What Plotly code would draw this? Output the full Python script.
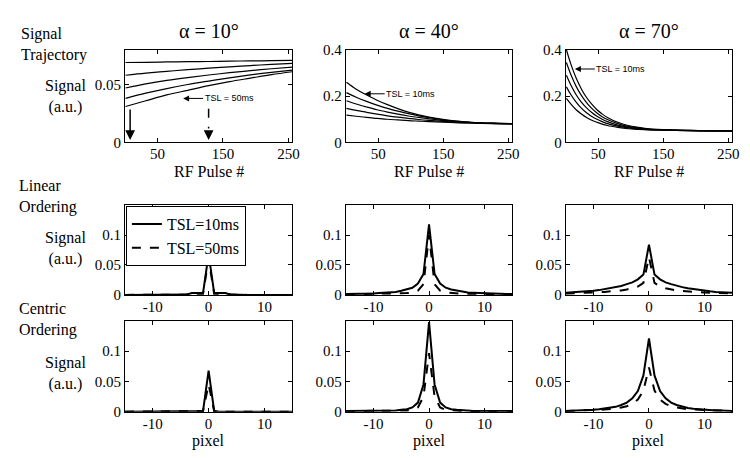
import plotly.graph_objects as go
from plotly.subplots import make_subplots

W, H = 750, 458
SERIF = "Liberation Serif, Times New Roman, serif"
SANS = "Liberation Sans, Arial, sans-serif"


def fx(x):
    return x / W


def fy(y):
    return 1 - y / H


alphas = ["\u03b1 = 10\u00b0", "\u03b1 = 40\u00b0", "\u03b1 = 70\u00b0"]
tsl_labels = ["TSL=10ms", "TSL=20ms", "TSL=30ms", "TSL=40ms", "TSL=50ms"]

# ---- top row: signal trajectory vs RF pulse (TSL 10..50 ms, top to bottom)
pulse_a10 = [1, 32, 64, 96, 128, 160, 192, 224, 256]
traj_a10 = [
    [0.0690, 0.0692, 0.0695, 0.0697, 0.0699, 0.0702, 0.0704, 0.0706, 0.0708],
    [0.0580, 0.0598, 0.0614, 0.0628, 0.0641, 0.0653, 0.0664, 0.0674, 0.0683],
    [0.0470, 0.0505, 0.0535, 0.0560, 0.0582, 0.0602, 0.0620, 0.0636, 0.0650],
    [0.0380, 0.0425, 0.0465, 0.0500, 0.0530, 0.0558, 0.0583, 0.0605, 0.0625],
    [0.0310, 0.0360, 0.0410, 0.0450, 0.0490, 0.0525, 0.0555, 0.0585, 0.0610],
]

pulse_a40 = [1, 16, 32, 48, 64, 80, 96, 112, 128, 160, 192, 224, 256]
traj_a40 = [
    [0.260, 0.230, 0.205, 0.182, 0.163, 0.146, 0.131, 0.119, 0.109, 0.095, 0.087, 0.083, 0.081],
    [0.215, 0.195, 0.177, 0.161, 0.147, 0.135, 0.124, 0.115, 0.107, 0.094, 0.087, 0.083, 0.081],
    [0.180, 0.166, 0.153, 0.141, 0.131, 0.122, 0.114, 0.108, 0.102, 0.092, 0.086, 0.082, 0.081],
    [0.147, 0.138, 0.130, 0.122, 0.115, 0.109, 0.104, 0.099, 0.095, 0.089, 0.085, 0.082, 0.081],
    [0.118, 0.113, 0.108, 0.104, 0.100, 0.097, 0.094, 0.092, 0.090, 0.086, 0.083, 0.081, 0.080],
]

pulse_a70 = [1, 8, 16, 24, 32, 40, 48, 56, 64, 80, 96, 112, 128, 192, 256]
traj_a70 = [
    [0.400, 0.337, 0.278, 0.231, 0.194, 0.165, 0.141, 0.123, 0.108, 0.087, 0.073, 0.065, 0.059, 0.052, 0.050],
    [0.345, 0.292, 0.242, 0.203, 0.172, 0.147, 0.127, 0.111, 0.099, 0.081, 0.069, 0.062, 0.058, 0.052, 0.050],
    [0.290, 0.247, 0.206, 0.174, 0.149, 0.129, 0.113, 0.100, 0.090, 0.075, 0.066, 0.060, 0.056, 0.051, 0.050],
    [0.240, 0.206, 0.174, 0.148, 0.128, 0.112, 0.100, 0.090, 0.081, 0.070, 0.063, 0.058, 0.055, 0.051, 0.050],
    [0.190, 0.165, 0.141, 0.123, 0.108, 0.096, 0.087, 0.079, 0.073, 0.065, 0.059, 0.056, 0.054, 0.051, 0.050],
]

# ---- image profiles (pixel 0..15, symmetric about 0)
lin_a10_10 = [0.068, 0.003, 0.003, 0.003, 0.0005, 0, 0, 0, 0, 0, 0, 0, 0, 0, 0, 0]
lin_a10_50 = [0.060, 0.002, 0.002, 0.002, 0.0005, 0, 0, 0, 0, 0, 0, 0, 0, 0, 0, 0]
lin_a40_10 = [0.118, 0.035, 0.019, 0.012, 0.009, 0.007, 0.005, 0.004, 0.0035, 0.003, 0.0025, 0.002, 0.002, 0.0018, 0.0015, 0.0015]
lin_a40_50 = [0.100, 0.018, 0.007, 0.004, 0.003, 0.0025, 0.002, 0.002, 0.0018, 0.0016, 0.0015, 0.0014, 0.0013, 0.0012, 0.0012, 0.0011]
lin_a70_10 = [0.084, 0.034, 0.026, 0.021, 0.018, 0.015, 0.013, 0.011, 0.0095, 0.008, 0.007, 0.006, 0.005, 0.0045, 0.004, 0.0035]
lin_a70_50 = [0.063, 0.020, 0.014, 0.011, 0.009, 0.0075, 0.0065, 0.0055, 0.005, 0.0045, 0.004, 0.0035, 0.003, 0.0028, 0.0025, 0.0023]

cen_a10_10 = [0.068, 0.001, 0, 0, 0, 0, 0, 0, 0, 0, 0, 0, 0, 0, 0, 0]
cen_a10_50 = [0.045, 0.001, 0, 0, 0, 0, 0, 0, 0, 0, 0, 0, 0, 0, 0, 0]
cen_a40_10 = [0.148, 0.045, 0.015, 0.007, 0.004, 0.003, 0.002, 0.0015, 0.001, 0.001, 0.001, 0.001, 0.001, 0.001, 0.001, 0.001]
cen_a40_50 = [0.097, 0.025, 0.007, 0.003, 0.002, 0.0015, 0.001, 0.001, 0.001, 0.001, 0.001, 0.001, 0.001, 0.001, 0.001, 0.001]
cen_a70_10 = [0.121, 0.060, 0.034, 0.022, 0.015, 0.011, 0.008, 0.006, 0.005, 0.004, 0.003, 0.0025, 0.002, 0.0018, 0.0015, 0.0013]
cen_a70_50 = [0.073, 0.035, 0.020, 0.013, 0.009, 0.007, 0.005, 0.004, 0.0035, 0.003, 0.0025, 0.002, 0.0018, 0.0015, 0.0013, 0.0012]

pixel_half = list(range(16))


def mirror(half):
    return half[:0:-1] + half


pixels = [-p for p in pixel_half[:0:-1]] + pixel_half

# panel boxes in page pixels: (left, right) per column, (top, bottom) per row
cols_px = [(118, 287), (341, 509), (563, 731)]
rows_px = [(35, 131), (196, 289), (316, 410)]

fig = make_subplots(rows=3, cols=3)

# top row
for c, (pulse, traj) in enumerate([(pulse_a10, traj_a10), (pulse_a40, traj_a40), (pulse_a70, traj_a70)]):
    for k, ys in enumerate(traj):
        fig.add_trace(go.Scatter(x=pulse, y=ys, mode="lines", line=dict(color="black", width=1.2, shape="spline"),
                                 name=tsl_labels[k], showlegend=False), row=1, col=c + 1)

profiles = [
    [(lin_a10_10, lin_a10_50), (lin_a40_10, lin_a40_50), (lin_a70_10, lin_a70_50)],
    [(cen_a10_10, cen_a10_50), (cen_a40_10, cen_a40_50), (cen_a70_10, cen_a70_50)],
]
for r, rowdata in enumerate(profiles):
    for c, (p10, p50) in enumerate(rowdata):
        first = (r == 0 and c == 0)
        fig.add_trace(go.Scatter(x=pixels, y=mirror(p10), mode="lines", line=dict(color="black", width=2),
                                 name="TSL=10ms", showlegend=first), row=r + 2, col=c + 1)
        fig.add_trace(go.Scatter(x=pixels, y=mirror(p50), mode="lines", line=dict(color="black", width=2, dash="dash"),
                                 name="TSL=50ms", showlegend=first), row=r + 2, col=c + 1)

ax_common = dict(showline=True, linecolor="black", linewidth=1, mirror="ticks", ticks="inside", ticklen=4,
                 tickcolor="black", showgrid=False, zeroline=False,
                 tickfont=dict(family=SERIF, size=15, color="black"))

for r in range(3):
    for c in range(3):
        n = r * 3 + c + 1
        xl, xr = cols_px[c]
        yt, yb = rows_px[r]
        xkey = "xaxis" if n == 1 else "xaxis%d" % n
        ykey = "yaxis" if n == 1 else "yaxis%d" % n
        if r == 0:
            xa = dict(range=[0, 256], tickvals=[50, 150, 250])
            if c == 0:
                ya = dict(range=[0, 0.08], tickvals=[0, 0.05], ticktext=["0", "0.05"])
            else:
                ya = dict(range=[0, 0.4], tickvals=[0, 0.2, 0.4], ticktext=["0", "0.2", "0.4"])
        else:
            xa = dict(range=[-15, 15], tickvals=[-10, 0, 10], ticktext=["-10", "0", "10"])
            ya = dict(range=[0, 0.15], tickvals=[0, 0.05, 0.1], ticktext=["0", "0.05", "0.1"])
        xa.update(ax_common, domain=[fx(xl), fx(xr)], ticklabelstandoff=-2)
        ya.update(ax_common, domain=[fy(yb), fy(yt)])
        fig.layout[xkey].update(xa)
        fig.layout[ykey].update(ya)

annotations = []


def label(text, x, y, size=16, xanchor="center"):
    annotations.append(dict(text=text, x=fx(x), y=fy(y), xref="paper", yref="paper", showarrow=False,
                            xanchor=xanchor, yanchor="middle", align="left" if xanchor == "left" else "center",
                            font=dict(family=SERIF, size=size, color="black")))


for c, (xl, xr) in enumerate(cols_px):
    label(alphas[c], (xl + xr) / 2, 16, size=20)
    label("RF Pulse #", (xl + xr) / 2, 161, size=16)
    label("pixel", (xl + xr) / 2, 440, size=16)

label("Signal<br>Trajectory", 11, 30, xanchor="left")
label("Linear<br>Ordering", 9, 187, xanchor="left")
label("Centric<br>Ordering", 9, 315, xanchor="left")
for yc in (83, 241, 370):
    label("Signal<br>(a.u.)", 58, yc)

# arrows with small labels
for xref, yref, x, y, txt in [("x", "y", 89, 0.038, "TSL = 50ms"),
                              ("x2", "y2", 29, 0.21, "TSL = 10ms"),
                              ("x3", "y3", 14, 0.317, "TSL = 10ms")]:
    annotations.append(dict(text=txt, x=x, y=y, xref=xref, yref=yref, ax=46, ay=0, showarrow=True,
                            arrowhead=2, arrowsize=1.2, arrowwidth=1, arrowcolor="black",
                            font=dict(family=SANS, size=9, color="black")))

# k-space centre markers on the alpha=10 panel
annotations.append(dict(text="", x=8, y=0.002, xref="x", yref="y", ax=0, ay=-32, showarrow=True,
                        arrowhead=2, arrowsize=1.3, arrowwidth=1.5, arrowcolor="black"))
annotations.append(dict(text="", x=128, y=0.002, xref="x", yref="y", ax=0, ay=-10, showarrow=True,
                        arrowhead=2, arrowsize=1.3, arrowwidth=1.5, arrowcolor="black"))
fig.add_shape(type="line", x0=128, x1=128, y0=0.029, y1=0.012, xref="x", yref="y",
              line=dict(color="black", width=1.5, dash="dash"))

fig.update_layout(
    width=W, height=H, margin=dict(l=0, r=0, t=0, b=0),
    paper_bgcolor="white", plot_bgcolor="white",
    annotations=annotations,
    showlegend=True,
    legend=dict(x=fx(119), y=fy(197), xanchor="left", yanchor="top", bgcolor="white",
                bordercolor="black", borderwidth=1, font=dict(family=SERIF, size=16, color="black"),
                tracegroupgap=0, itemwidth=30),
)

fig.write_html("out.html")
